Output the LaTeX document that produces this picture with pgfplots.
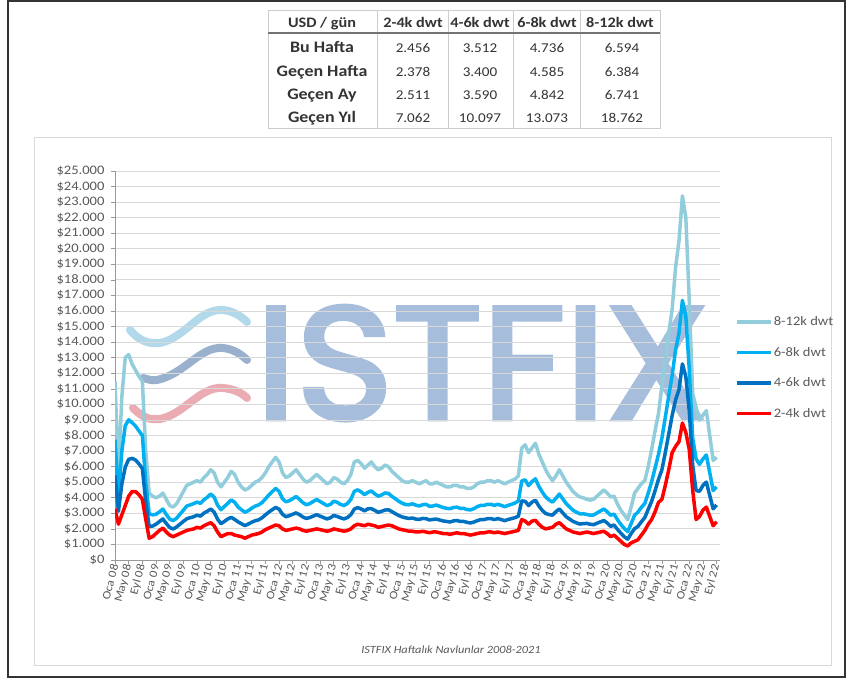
\documentclass[border=0pt]{standalone}
\usepackage{fontspec}
\setmainfont{Carlito}[FakeStretch=1.12]
\newfontfamily\wmfont{Poppins}[FakeBold=3]
\usepackage{pgfplots}
\usepackage{pgfplotstable}
\pgfplotsset{compat=1.18}
\definecolor{cL}{HTML}{92CDDC}
\definecolor{cB}{HTML}{00B0F0}
\definecolor{cD}{HTML}{0070C0}
\definecolor{cR}{HTML}{FF0000}
\definecolor{txt}{HTML}{595959}
\definecolor{grd}{HTML}{D9D9D9}
\definecolor{wm}{RGB}{166,190,220}
\definecolor{wv1}{HTML}{A8D5E8}
\definecolor{wv2}{HTML}{8FA8C8}
\definecolor{wv3}{HTML}{E8A2AA}

\pgfplotstableread{
m L B D R
0 11.5 7.73 5.43 3.3
1 5.5 4.03 3.13 2.3
2 10.5 7.00 4.88 2.9
3 13.0 8.63 5.97 3.5
4 13.2 9.01 6.47 4.1
5 12.6 8.83 6.53 4.4
6 12.2 8.61 6.43 4.4
7 11.8 8.30 6.18 4.2
8 11.5 8.00 5.88 3.9
9 7.0 4.98 3.74 2.6
10 4.3 2.97 2.15 1.4
11 4.1 2.90 2.18 1.5
12 4.0 2.94 2.30 1.7
13 4.1 3.09 2.47 1.9
14 4.3 3.27 2.64 2.05
15 3.9 2.93 2.35 1.8
16 3.5 2.63 2.09 1.6
17 3.4 2.53 1.99 1.5
18 3.6 2.68 2.12 1.6
19 4.0 2.94 2.30 1.7
20 4.4 3.20 2.48 1.8
21 4.8 3.47 2.65 1.9
22 4.9 3.54 2.72 1.95
23 5.0 3.62 2.78 2.0
24 5.1 3.72 2.88 2.1
25 5.0 3.64 2.82 2.05
26 5.3 3.87 3.01 2.2
27 5.5 4.03 3.13 2.3
28 5.8 4.24 3.28 2.4
29 5.6 4.04 3.08 2.2
30 5.0 3.53 2.63 1.8
31 4.7 3.23 2.33 1.5
32 5.0 3.44 2.48 1.6
33 5.3 3.64 2.64 1.7
34 5.7 3.86 2.74 1.7
35 5.5 3.71 2.61 1.6
36 5.0 3.41 2.45 1.55
37 4.7 3.23 2.33 1.5
38 4.5 3.07 2.21 1.4
39 4.6 3.17 2.31 1.5
40 4.8 3.33 2.43 1.6
41 5.0 3.46 2.52 1.65
42 5.1 3.54 2.58 1.7
43 5.3 3.69 2.71 1.8
44 5.6 3.92 2.90 1.95
45 6.0 4.18 3.08 2.05
46 6.3 4.39 3.23 2.15
47 6.6 4.60 3.38 2.25
48 6.3 4.41 3.27 2.2
49 5.6 3.94 2.94 2.0
50 5.3 3.74 2.78 1.9
51 5.4 3.81 2.85 1.95
52 5.6 3.94 2.94 2.0
53 5.8 4.08 3.03 2.05
54 5.5 3.89 2.91 2.0
55 5.2 3.68 2.76 1.9
56 5.0 3.55 2.67 1.85
57 5.1 3.63 2.73 1.9
58 5.3 3.76 2.82 1.95
59 5.5 3.89 2.91 2.0
60 5.3 3.76 2.82 1.95
61 5.1 3.63 2.73 1.9
62 4.9 3.50 2.64 1.85
63 5.0 3.57 2.71 1.9
64 5.3 3.78 2.86 2.0
65 5.2 3.71 2.80 1.95
66 5.0 3.57 2.71 1.9
67 4.9 3.50 2.64 1.85
68 5.1 3.63 2.73 1.9
69 5.5 3.89 2.91 2.0
70 6.3 4.41 3.27 2.2
71 6.4 4.51 3.37 2.3
72 6.2 4.38 3.28 2.25
73 5.9 4.20 3.16 2.2
74 6.1 4.35 3.29 2.3
75 6.3 4.44 3.30 2.25
76 6.0 4.25 3.19 2.2
77 5.8 4.10 3.06 2.1
78 5.9 4.18 3.13 2.15
79 6.1 4.31 3.21 2.2
80 6.0 4.28 3.23 2.25
81 5.7 4.09 3.11 2.2
82 5.5 3.94 2.98 2.1
83 5.3 3.78 2.86 2.0
84 5.1 3.65 2.77 1.95
85 5.0 3.57 2.71 1.9
86 5.0 3.55 2.67 1.85
87 5.1 3.61 2.70 1.85
88 5.0 3.53 2.63 1.8
89 4.9 3.47 2.61 1.8
90 5.0 3.55 2.67 1.85
91 5.1 3.58 2.66 1.8
92 4.9 3.45 2.57 1.75
93 4.9 3.47 2.61 1.8
94 5.0 3.53 2.63 1.8
95 4.9 3.45 2.57 1.75
96 4.8 3.37 2.51 1.7
97 4.7 3.32 2.48 1.7
98 4.7 3.30 2.44 1.65
99 4.8 3.37 2.51 1.7
100 4.8 3.40 2.54 1.75
101 4.7 3.32 2.48 1.7
102 4.7 3.32 2.48 1.7
103 4.6 3.24 2.42 1.65
104 4.6 3.22 2.38 1.6
105 4.7 3.30 2.44 1.65
106 4.9 3.43 2.53 1.7
107 5.0 3.51 2.60 1.75
108 5.0 3.51 2.60 1.75
109 5.1 3.58 2.66 1.8
110 5.1 3.58 2.66 1.8
111 5.0 3.51 2.60 1.75
112 5.1 3.58 2.66 1.8
113 5.0 3.51 2.60 1.75
114 4.9 3.43 2.53 1.7
115 5.0 3.51 2.60 1.75
116 5.1 3.58 2.66 1.8
117 5.2 3.66 2.72 1.85
118 5.4 3.79 2.81 1.9
119 7.2 5.08 3.80 2.6
120 7.4 5.15 3.77 2.5
121 6.9 4.78 3.50 2.3
122 7.2 5.04 3.72 2.5
123 7.5 5.22 3.84 2.55
124 6.8 4.73 3.47 2.3
125 6.3 4.37 3.19 2.1
126 5.8 4.05 2.99 2.0
127 5.4 3.86 2.92 2.05
128 5.1 3.72 2.88 2.1
129 5.4 3.97 3.11 2.3
130 5.8 4.24 3.28 2.4
131 5.4 3.93 3.03 2.2
132 5.0 3.62 2.78 2.0
133 4.7 3.41 2.63 1.9
134 4.4 3.20 2.48 1.8
135 4.2 3.07 2.39 1.75
136 4.05 2.97 2.31 1.7
137 4.0 2.97 2.34 1.75
138 3.9 2.93 2.35 1.8
139 3.85 2.88 2.30 1.75
140 3.9 2.89 2.27 1.7
141 4.1 3.02 2.36 1.75
142 4.3 3.15 2.45 1.8
143 4.5 3.28 2.54 1.85
144 4.3 3.10 2.38 1.7
145 4.05 2.88 2.16 1.5
146 4.1 2.95 2.25 1.6
147 3.6 2.59 1.97 1.4
148 3.2 2.28 1.72 1.2
149 2.9 2.03 1.49 1.0
150 2.6 1.82 1.34 0.9
151 3.4 2.34 1.70 1.1
152 4.3 2.87 2.01 1.2
153 4.6 3.08 2.16 1.3
154 4.9 3.38 2.46 1.6
155 5.1 3.63 2.73 1.9
156 6.0 4.30 3.26 2.3
157 7.1 5.03 3.77 2.6
158 8.3 5.91 4.45 3.1
159 9.4 6.78 5.18 3.7
160 11.2 7.84 5.80 3.9
161 12.9 9.17 6.91 4.8
162 14.6 10.55 8.09 5.8
163 16.1 11.87 9.29 6.9
164 18.8 13.51 10.29 7.3
165 20.5 14.57 10.95 7.6
166 23.4 16.68 12.60 8.8
167 22.0 15.65 11.79 8.2
168 16.7 12.28 9.60 7.1
169 10.7 7.85 6.11 4.5
170 9.8 6.49 4.47 2.6
171 9.0 6.15 4.41 2.8
172 9.3 6.49 4.79 3.2
173 9.6 6.75 5.01 3.4
174 8.0 5.61 4.15 2.8
175 6.4 4.47 3.29 2.2
176 6.6 4.70 3.54 2.46
}\data

\begin{document}
\begin{tikzpicture}[x=1pt,y=1pt]
\useasboundingbox (-115,-120) rectangle (738,560);
% outer frame
\draw[line width=1.5pt, black!80] (-107,-117) rectangle (730,559);
% chart box
\draw[line width=1pt, black!15] (-80,422) rectangle (716,-105);

% ---- table ----
\draw[black!20, line width=0.6pt] (153,550) rectangle (545,432);
\foreach \xx in {262,333,398,465} \draw[black!20, line width=0.6pt] (\xx,550) -- (\xx,432);
\draw[black!55, line width=1.4pt] (153,527) -- (545,527);
\begin{scope}[every node/.style={anchor=base, inner sep=0pt, text=black!80}]
\def\hf{\bfseries\fontsize{14.5}{14.5}\selectfont}
\def\rf{\bfseries\fontsize{16}{16}\selectfont}
\def\nf{\fontsize{13.5}{13.5}\selectfont\color{black!70}}
\node[font=\hf] at (207,532) {USD / gün};
\node[font=\hf] at (298,532) {2-4k dwt};
\node[font=\hf] at (365,532) {4-6k dwt};
\node[font=\hf] at (432,532) {6-8k dwt};
\node[font=\hf] at (505,532) {8-12k dwt};
\node[font=\rf] at (207,507) {Bu Hafta};
\node[font=\rf] at (207,483) {Geçen Hafta};
\node[font=\rf] at (207,460) {Geçen Ay};
\node[font=\rf] at (207,437) {Geçen Yıl};
\node[font=\nf] at (298,507) {2.456};
\node[font=\nf] at (365,507) {3.512};
\node[font=\nf] at (432,507) {4.736};
\node[font=\nf] at (507,507) {6.594};
\node[font=\nf] at (298,483) {2.378};
\node[font=\nf] at (365,483) {3.400};
\node[font=\nf] at (432,483) {4.585};
\node[font=\nf] at (507,483) {6.384};
\node[font=\nf] at (298,460) {2.511};
\node[font=\nf] at (365,460) {3.590};
\node[font=\nf] at (432,460) {4.842};
\node[font=\nf] at (507,460) {6.741};
\node[font=\nf] at (298,437) {7.062};
\node[font=\nf] at (365,437) {10.097};
\node[font=\nf] at (432,437) {13.073};
\node[font=\nf] at (507,437) {18.762};
\end{scope}

% ---- watermark ----
\node[anchor=base, text=wm, inner sep=0pt, xscale=1.03, font=\wmfont\fontsize{160}{160}\selectfont] at (367,141) {ISTFIX};
\draw[wv1, line width=8pt, line cap=round, opacity=0.9] (15,230) .. controls (25,218) and (35,216) .. (45,217) .. controls (70,222) and (85,252) .. (108,250) .. controls (118,249) and (126,244) .. (132,238);
\draw[wv2, line width=8pt, line cap=round, opacity=0.9] (28,182) .. controls (33,181) and (36,179) .. (42,180) .. controls (70,186) and (85,214) .. (108,212) .. controls (118,211) and (126,206) .. (132,200);
\draw[wv3, line width=8pt, line cap=round, opacity=0.9] (18,152) .. controls (28,142) and (35,140) .. (45,141) .. controls (70,146) and (85,174) .. (108,172) .. controls (118,171) and (126,168) .. (132,162);

% caption
\node[font=\itshape\fontsize{11}{11}\selectfont, text=txt] at (336,-90) {ISTFIX Haftalık Navlunlar 2008-2021};

\begin{axis}[
  at={(0pt,0pt)}, anchor=origin,
  scale only axis, width=605pt, height=389pt,
  xmin=0, xmax=177, ymin=0, ymax=25,
  axis x line*=bottom, axis y line*=left,
  axis line style={draw=black!40, line width=0.8pt, -},
  xtick={0,4,...,176},
  xticklabels={Oca 08,May 08,Eyl 08,Oca 09,May 09,Eyl 09,Oca 10,May 10,Eyl 10,Oca 11,May 11,Eyl 11,Oca 12,May 12,Eyl 12,Oca 13,May 13,Eyl 13,Oca 14,May 14,Eyl 14,Oca 15,May 15,Eyl 15,Oca 16,May 16,Eyl 16,Oca 17,May 17,Eyl 17,Oca 18,May 18,Eyl 18,Oca 19,May 19,Eyl 19,Oca 20,May 20,Eyl 20,Oca 21,May 21,Eyl 21,Oca 22,May 22,Eyl 22},
  ytick={0,1,...,25},
  yticklabels={\$0,\$1.000,\$2.000,\$3.000,\$4.000,\$5.000,\$6.000,\$7.000,\$8.000,\$9.000,\$10.000,\$11.000,\$12.000,\$13.000,\$14.000,\$15.000,\$16.000,\$17.000,\$18.000,\$19.000,\$20.000,\$21.000,\$22.000,\$23.000,\$24.000,\$25.000},
  tick align=outside, major tick length=4pt,
  tick style={draw=black!40, line width=0.6pt},
  ymajorgrids, grid style={draw=grd, line width=0.9pt},
  xticklabel style={rotate=75, anchor=east, font=\fontsize{11.5}{11.5}\selectfont, text=txt, inner sep=0.5pt},
  yticklabel style={font=\fontsize{13}{13}\selectfont, text=txt, xshift=-3pt},
  legend style={at={(1.02,0.634)}, anchor=north west, draw=none, fill=none, font=\fontsize{13}{13}\selectfont, text=txt, row sep=18pt, nodes={inner sep=1pt}},
  legend cell align=left,
  legend image code/.code={\draw[#1] (0pt,0pt) -- (34pt,0pt);},
]
\addplot[cL, line width=3.5pt, line join=round] table[x=m,y=L]{\data};
\addlegendentry{8-12k dwt}
\addplot[cB, line width=3.5pt, line join=round] table[x=m,y=B]{\data};
\addlegendentry{6-8k dwt}
\addplot[cD, line width=3.5pt, line join=round] table[x=m,y=D]{\data};
\addlegendentry{4-6k dwt}
\addplot[cR, line width=3.5pt, line join=round] table[x=m,y=R]{\data};
\addlegendentry{2-4k dwt}
\end{axis}
\end{tikzpicture}
\end{document}
